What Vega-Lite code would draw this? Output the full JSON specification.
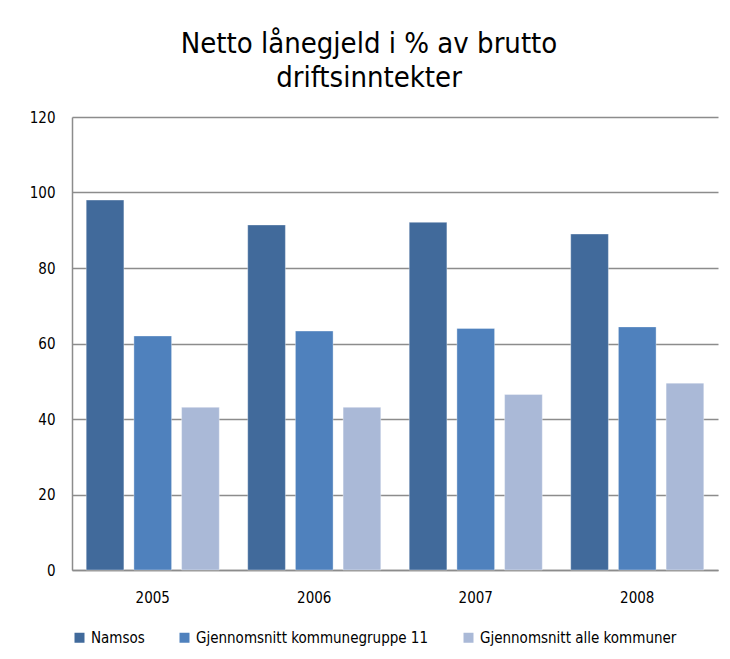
{
  "$schema": "https://vega.github.io/schema/vega-lite/v6.json",
  "autosize": {"type": "none"},
  "width": 646,
  "height": 453,
  "padding": {"left": 72, "top": 117, "right": 12, "bottom": 89},
  "background": "white",
  "title": {
    "text": ["Netto lånegjeld i % av brutto", "driftsinntekter"],
    "fontSize": 29,
    "font": "DejaVu Sans Condensed, sans-serif",
    "fontWeight": "normal",
    "color": "#000000",
    "lineHeight": 34,
    "anchor": "middle",
    "frame": "group",
    "dx": -26,
    "offset": 17
  },
  "data": {
    "values": [
      {"year": "2005", "serie": "Namsos", "value": 98.0},
      {"year": "2005", "serie": "Gjennomsnitt kommunegruppe 11", "value": 62.0},
      {"year": "2005", "serie": "Gjennomsnitt alle kommuner", "value": 43.1},
      {"year": "2006", "serie": "Namsos", "value": 91.4},
      {"year": "2006", "serie": "Gjennomsnitt kommunegruppe 11", "value": 63.3},
      {"year": "2006", "serie": "Gjennomsnitt alle kommuner", "value": 43.1},
      {"year": "2007", "serie": "Namsos", "value": 92.1},
      {"year": "2007", "serie": "Gjennomsnitt kommunegruppe 11", "value": 64.0},
      {"year": "2007", "serie": "Gjennomsnitt alle kommuner", "value": 46.5},
      {"year": "2008", "serie": "Namsos", "value": 89.0},
      {"year": "2008", "serie": "Gjennomsnitt kommunegruppe 11", "value": 64.4},
      {"year": "2008", "serie": "Gjennomsnitt alle kommuner", "value": 49.5}
    ]
  },
  "mark": {"type": "bar", "stroke": "#ffffff", "strokeOpacity": 0.35, "strokeWidth": 1},
  "encoding": {
    "x": {
      "field": "year",
      "type": "nominal",
      "scale": {"paddingInner": 0.176, "paddingOuter": 0.088},
      "axis": {
        "title": null,
        "labelAngle": 0,
        "labelFontSize": 15,
        "labelFont": "DejaVu Sans Condensed, sans-serif",
        "labelColor": "#000000",
        "labelPadding": 20,
        "ticks": false,
        "domainColor": "#8c8c8c",
        "domainWidth": 1.5
      }
    },
    "xOffset": {
      "field": "serie",
      "type": "nominal",
      "sort": ["Namsos", "Gjennomsnitt kommunegruppe 11", "Gjennomsnitt alle kommuner"],
      "scale": {"paddingInner": 0.21, "paddingOuter": 0}
    },
    "y": {
      "field": "value",
      "type": "quantitative",
      "scale": {"domain": [0, 120], "nice": false},
      "axis": {
        "title": null,
        "values": [0, 20, 40, 60, 80, 100, 120],
        "labelFontSize": 15,
        "labelFont": "DejaVu Sans Condensed, sans-serif",
        "labelColor": "#000000",
        "labelPadding": 17,
        "ticks": false,
        "domainColor": "#8c8c8c",
        "domainWidth": 1.5,
        "gridColor": "#8c8c8c",
        "gridWidth": 1.3
      }
    },
    "color": {
      "field": "serie",
      "type": "nominal",
      "sort": ["Namsos", "Gjennomsnitt kommunegruppe 11", "Gjennomsnitt alle kommuner"],
      "scale": {
        "domain": ["Namsos", "Gjennomsnitt kommunegruppe 11", "Gjennomsnitt alle kommuner"],
        "range": ["#416a9b", "#4f81bd", "#aab9d7"]
      },
      "legend": {
        "title": null,
        "orient": "bottom",
        "direction": "horizontal",
        "symbolType": "square",
        "symbolSize": 100,
        "symbolStrokeWidth": 0,
        "labelFontSize": 15,
        "labelFont": "DejaVu Sans Condensed, sans-serif",
        "labelColor": "#000000",
        "labelOffset": 4,
        "columnPadding": 32,
        "offset": 25,
        "labelLimit": 400
      }
    }
  },
  "config": {
    "view": {"stroke": null}
  }
}
